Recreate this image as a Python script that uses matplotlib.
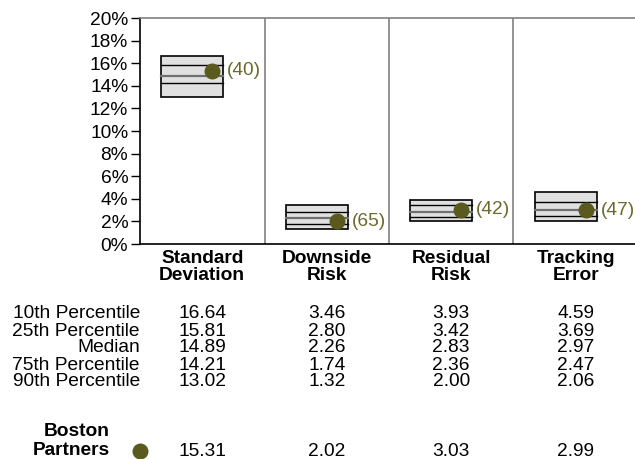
import matplotlib.pyplot as plt
import matplotlib.transforms as mtransforms
from matplotlib.patches import Rectangle

plt.rcParams['font.family'] = ['Liberation Sans', 'DejaVu Sans']

# Datos del grafico
categorias = ['Standard\nDeviation', 'Downside\nRisk', 'Residual\nRisk', 'Tracking\nError']
p10 = [16.64, 3.46, 3.93, 4.59]
p25 = [15.81, 2.80, 3.42, 3.69]
mediana = [14.89, 2.26, 2.83, 2.97]
p75 = [14.21, 1.74, 2.36, 2.47]
p90 = [13.02, 1.32, 2.00, 2.06]
boston = [15.31, 2.02, 3.03, 2.99]
rangos = [40, 65, 42, 47]
filas = ['10th Percentile', '25th Percentile', 'Median', '75th Percentile', '90th Percentile']
yticks = list(range(0, 21, 2))

W, H = 635, 459
fs = 13.8
fig = plt.figure(figsize=(W / 100, H / 100), dpi=100)
ax = fig.add_axes([140 / W, 1 - 244 / H, 498 / W, 226 / H])

olivo = '#5b5a1e'
texto_olivo = '#6b6a2c'

for i in range(4):
    x0 = i + 0.17
    ancho = 0.50
    ax.add_patch(Rectangle((x0, p90[i]), ancho, p10[i] - p90[i],
                           facecolor='#e0e0e0', edgecolor='black', lw=1.2, zorder=2))
    ax.plot([x0, x0 + ancho], [p25[i], p25[i]], color='black', lw=1.0, zorder=3)
    ax.plot([x0, x0 + ancho], [mediana[i], mediana[i]], color='#707070', lw=1.6, zorder=3)
    ax.plot([x0, x0 + ancho], [p75[i], p75[i]], color='black', lw=1.0, zorder=3)
    ax.plot(i + 0.58, boston[i], 'o', color=olivo, ms=10.5, zorder=4)
    ax.text(i + 0.70, boston[i], '(%d)' % rangos[i], color=texto_olivo,
            fontsize=fs, va='center', ha='left', zorder=4)
    if i > 0:
        ax.axvline(i, color='#808080', lw=1.2)

ax.set_xlim(0, 4)
ax.set_ylim(0, 20)
ax.set_yticks(yticks)
ax.set_yticklabels(['%d%%' % v for v in yticks], fontsize=fs)
ax.set_xticks([])
ax.tick_params(axis='y', length=6.5, width=1, pad=2)
ax.spines['right'].set_visible(False)
ax.spines['top'].set_color('#808080')
ax.spines['top'].set_linewidth(1.2)
ax.spines['left'].set_linewidth(1.2)
ax.spines['bottom'].set_linewidth(1.2)

# Tabla de texto debajo
trans = mtransforms.blended_transform_factory(ax.transData, fig.transFigure)
for i, cat in enumerate(categorias):
    ax.text(i + 0.5, 1 - 267 / H, cat, transform=trans, ha='center', va='center',
            fontsize=fs, fontweight='bold', linespacing=1.02, clip_on=False)

valores = [p10, p25, mediana, p75, p90]
ys = [314, 331, 348, 365, 382]
for fila, vals, y in zip(filas, valores, ys):
    fig.text(140 / W, 1 - y / H, fila, ha='right', va='center', fontsize=fs)
    for i, v in enumerate(vals):
        ax.text(i + 0.5, 1 - y / H, '%.2f' % v, transform=trans, ha='center',
                va='center', fontsize=fs, clip_on=False)

fig.text(110 / W, 1 - 441 / H, 'Boston\nPartners', ha='right', va='center',
         fontsize=fs, fontweight='bold', multialignment='right', linespacing=1.12)
fig.add_artist(plt.Line2D([140 / W], [1 - 451 / H], marker='o', color=olivo, ms=10.5,
                          transform=fig.transFigure))
for i, v in enumerate(boston):
    ax.text(i + 0.5, 1 - 451 / H, '%.2f' % v, transform=trans, ha='center',
            va='center', fontsize=fs, clip_on=False)

fig.savefig('out.png', dpi=100)
